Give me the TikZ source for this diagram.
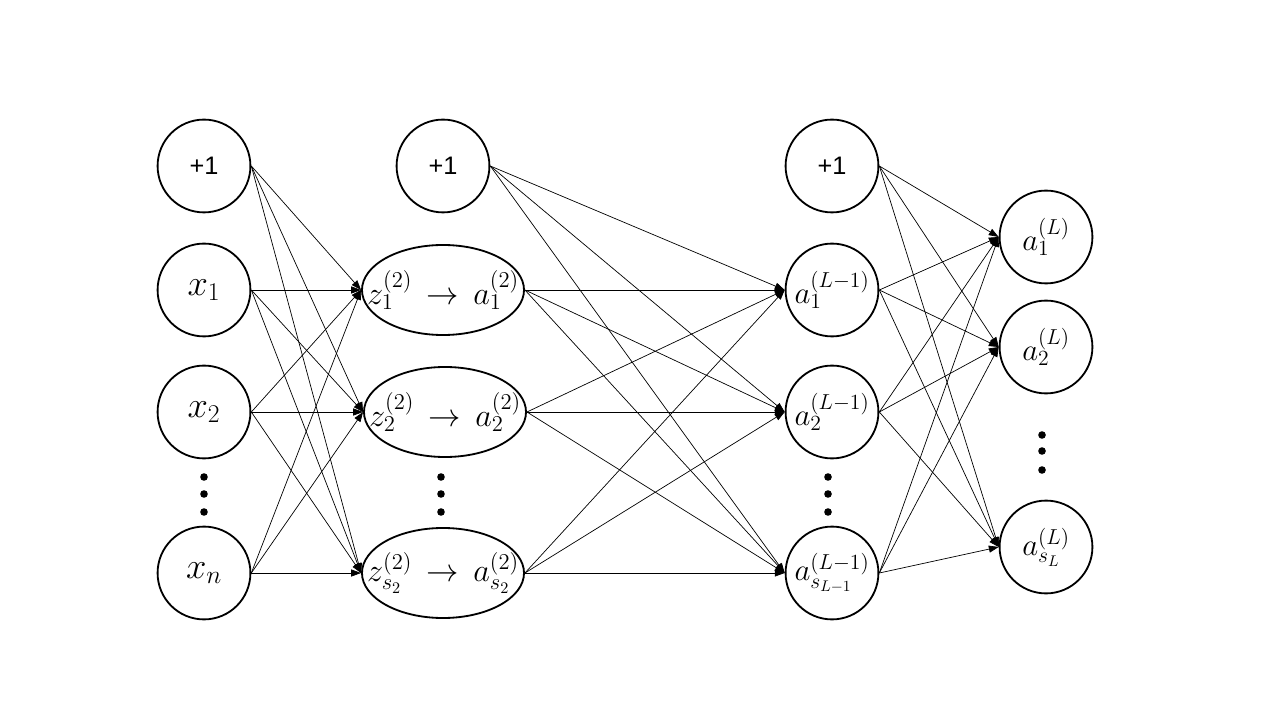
\RequirePackage{fix-cm}
\documentclass[tikz,border=0pt]{standalone}
\usepackage{fontspec}
\usetikzlibrary{arrows.meta,shapes.geometric}
\newfontfamily\plusfont{Liberation Sans}
\begin{document}
\begin{tikzpicture}[x=0.025cm,y=-0.025cm,
  neuron/.style={circle,draw,line width=1.3pt,minimum size=2.32cm,inner sep=0pt,font=\fontsize{22}{26}\selectfont},
  inp/.style={neuron,font=\fontsize{26}{30}\selectfont},
  hid/.style={ellipse,draw,line width=1.3pt,minimum width=4.05cm,minimum height=2.25cm,inner sep=0pt,font=\fontsize{23}{27}\selectfont},
  bias/.style={neuron,font=\plusfont\fontsize{18}{21}\selectfont},
  conn/.style={line width=0.5pt,-{Triangle[length=7pt,width=5pt]}},
  dotb/.style={circle,fill,inner sep=0pt,minimum size=0.19cm}]
\useasboundingbox (0,0) rectangle (1280,720);
% layer 1
\node[bias] (b1) at (204,166) {+1};
\node[inp] (x1) at (204,290) {\makebox[0pt]{$x_1$}};
\node[inp] (x2) at (204,412) {\makebox[0pt]{$x_2$}};
\node[inp] (xn) at (204,573) {\makebox[0pt]{$x_n$}};
\foreach \y [count=\i] in {477,494,512} \node[dotb] (d1\i) at (204,\y) {};
% layer 2
\node[bias] (b2) at (443,166) {+1};
\node[hid] (h1) at (443,290) {\makebox[0pt]{$z_1^{(2)}\,\rightarrow\,a_1^{(2)}$}};
\node[hid] (h2) at (445,412) {\makebox[0pt]{$z_2^{(2)}\,\rightarrow\,a_2^{(2)}$}};
\node[hid] (hs) at (443,573) {\makebox[0pt]{$z_{s_2}^{(2)}\,\rightarrow\,a_{s_2}^{(2)}$}};
\foreach \y [count=\i] in {477,494,512} \node[dotb] (d2\i) at (441,\y) {};
% layer 3
\node[bias] (b3) at (832,166) {+1};
\node[neuron] (a1) at (832,290) {\makebox[0pt]{$a_1^{(L-1)}$}};
\node[neuron] (a2) at (832,412) {\makebox[0pt]{$a_2^{(L-1)}$}};
\node[neuron] (as) at (832,573) {\makebox[0pt]{$a_{s_{L-1}}^{(L-1)}$}};
\foreach \y [count=\i] in {477,494,512} \node[dotb] (d3\i) at (828,\y) {};
% layer 4
\node[neuron] (o1) at (1046,237) {\makebox[0pt]{$a_1^{(L)}$}};
\node[neuron] (o2) at (1046,347) {\makebox[0pt]{$a_2^{(L)}$}};
\node[neuron] (os) at (1046,547) {\makebox[0pt]{$a_{s_L}^{(L)}$}};
\foreach \y [count=\i] in {435,451,470} \node[dotb] (d4\i) at (1042,\y) {};
% connections
\foreach \s in {b1,x1,x2,xn} \foreach \t in {h1,h2,hs} \draw[conn] (\s.east) -- (\t.west);
\foreach \s in {b2,h1,h2,hs} \foreach \t in {a1,a2,as} \draw[conn] (\s.east) -- (\t.west);
\foreach \s in {b3,a1,a2,as} \foreach \t in {o1,o2,os} \draw[conn] (\s.east) -- (\t.west);
\end{tikzpicture}
\end{document}
